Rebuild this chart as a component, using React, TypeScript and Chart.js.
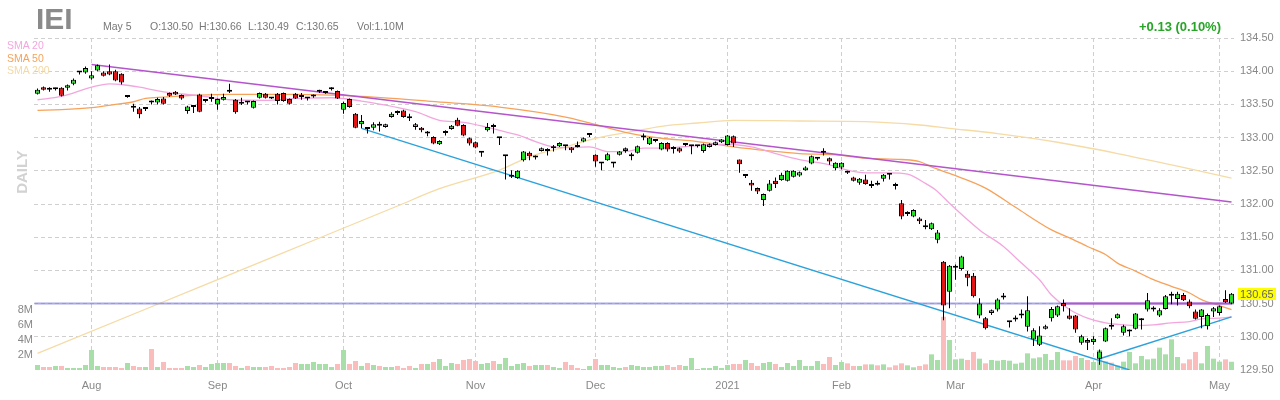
import React, { useEffect, useRef } from "react";
import { Chart, registerables } from "chart.js";

Chart.register(...registerables);

const FONT = '"Liberation Sans", Arial, Helvetica, sans-serif';

// ---- Daily candles, Jul 21 2020 .. May 5 2021 (index = trading day) ----
const opens = [
  133.66, 133.76, 133.75, 133.73, 133.75, 133.75, 133.81, 133.98, 133.98, 133.89,
  134.01, 133.98, 134.0, 134.0, 133.96, 133.61, 133.45, 133.44, 133.43, 133.53,
  133.53, 133.59, 133.67, 133.69, 133.64, 133.4, 133.46, 133.65, 133.55, 133.58,
  133.5, 133.57, 133.69, 133.57, 133.51, 133.53, 133.45, 133.6, 133.66, 133.59,
  133.66, 133.67, 133.58, 133.66, 133.61, 133.59, 133.62, 133.69, 133.67, 133.73,
  133.7, 133.42, 133.58, 133.36, 133.2, 133.13, 133.15, 133.18, 133.16, 133.31,
  133.37, 133.41, 133.29, 133.16, 133.15, 133.06, 133.01, 132.9, 133.07, 133.13,
  133.27, 133.19, 132.99, 132.93, 132.77, 133.11, 133.16, 132.99, 132.72, 132.41,
  132.39, 132.66, 132.77, 132.7, 132.8, 132.83, 132.84, 132.87, 132.87, 132.85,
  132.86, 132.94, 133.04, 132.74, 132.61, 132.66, 132.61, 132.74, 132.84, 132.72,
  132.77, 133.0, 132.9, 132.95, 132.82, 132.92, 132.83, 132.84, 132.89, 132.87,
  132.87, 132.8, 132.86, 132.89, 132.93, 132.89, 133.02, 132.67, 132.42, 132.32,
  132.24, 132.06, 132.2, 132.35, 132.36, 132.35, 132.41, 132.43, 132.51, 132.61,
  132.68, 132.77, 132.69, 132.54, 132.55, 132.47, 132.4, 132.32, 132.37, 132.27,
  132.29, 132.38, 132.44, 132.27, 132.01, 131.85, 131.81, 131.78, 131.65, 131.62,
  131.46, 131.13, 130.68, 131.04, 131.02, 130.95, 130.92, 130.32, 130.28, 130.36,
  130.41, 130.59, 130.22, 130.26, 130.32, 130.15, 129.96, 129.88, 130.12, 130.28,
  130.32, 130.51, 130.32, 130.32, 129.91, 129.95, 129.92, 129.67, 129.93, 130.15,
  130.28, 130.06, 130.08, 130.12, 130.25, 130.41, 130.41, 130.32, 130.42, 130.62,
  130.57, 130.63, 130.53, 130.38, 130.3, 130.16, 130.38, 130.36, 130.57, 130.5,
];
const highs = [
  133.74, 133.77, 133.76, 133.75, 133.76, 133.8, 133.89, 134.0, 134.07, 134.0,
  134.1, 134.0, 134.1, 134.02, 133.97, 133.62, 133.51, 133.46, 133.45, 133.56,
  133.6, 133.61, 133.68, 133.7, 133.65, 133.48, 133.49, 133.66, 133.58, 133.66,
  133.59, 133.66, 133.81, 133.58, 133.6, 133.55, 133.56, 133.68, 133.67, 133.6,
  133.67, 133.68, 133.59, 133.67, 133.67, 133.61, 133.65, 133.72, 133.68, 133.76,
  133.71, 133.54, 133.59, 133.37, 133.34, 133.16, 133.23, 133.24, 133.21, 133.38,
  133.41, 133.42, 133.36, 133.22, 133.16, 133.1, 133.02, 132.96, 133.11, 133.19,
  133.3, 133.2, 133.0, 132.94, 132.8, 133.22, 133.21, 133.0, 132.73, 132.51,
  132.51, 132.8, 132.79, 132.73, 132.85, 132.84, 132.89, 132.93, 132.89, 132.86,
  132.94, 133.0, 133.07, 132.75, 132.62, 132.77, 132.62, 132.8, 132.85, 132.77,
  132.88, 133.06, 133.01, 132.97, 132.93, 132.93, 132.87, 132.85, 132.91, 132.88,
  132.89, 132.91, 132.91, 132.94, 132.98, 133.04, 133.03, 132.67, 132.45, 132.36,
  132.25, 132.16, 132.36, 132.4, 132.47, 132.51, 132.51, 132.49, 132.57, 132.73,
  132.7, 132.84, 132.7, 132.63, 132.63, 132.5, 132.41, 132.39, 132.44, 132.35,
  132.35, 132.45, 132.45, 132.32, 132.06, 131.89, 131.92, 131.8, 131.76, 131.72,
  131.61, 131.14, 131.08, 131.09, 131.22, 130.99, 130.96, 130.58, 130.3, 130.41,
  130.58, 130.66, 130.23, 130.32, 130.41, 130.61, 130.13, 130.16, 130.18, 130.45,
  130.47, 130.56, 130.43, 130.33, 130.03, 129.98, 130.01, 129.81, 130.14, 130.28,
  130.35, 130.18, 130.11, 130.36, 130.28, 130.66, 130.46, 130.43, 130.63, 130.68,
  130.68, 130.66, 130.56, 130.41, 130.42, 130.35, 130.45, 130.47, 130.7, 130.66,
];
const lows = [
  133.65, 133.71, 133.69, 133.71, 133.62, 133.71, 133.79, 133.95, 133.96, 133.87,
  134.0, 133.92, 133.94, 133.85, 133.8, 133.6, 133.39, 133.29, 133.4, 133.5,
  133.5, 133.5, 133.61, 133.64, 133.57, 133.36, 133.37, 133.38, 133.53, 133.54,
  133.42, 133.56, 133.67, 133.36, 133.49, 133.5, 133.44, 133.59, 133.59, 133.58,
  133.5, 133.54, 133.5, 133.58, 133.57, 133.56, 133.6, 133.67, 133.66, 133.71,
  133.58, 133.36, 133.45, 133.14, 133.14, 133.06, 133.11, 133.09, 133.15, 133.3,
  133.34, 133.3, 133.25, 133.12, 133.08, 133.02, 132.9, 132.89, 133.03, 133.12,
  133.17, 133.02, 132.88, 132.84, 132.71, 133.09, 133.06, 132.89, 132.37, 132.39,
  132.38, 132.64, 132.66, 132.67, 132.79, 132.73, 132.79, 132.86, 132.81, 132.77,
  132.85, 132.93, 133.01, 132.56, 132.51, 132.65, 132.55, 132.73, 132.77, 132.66,
  132.76, 132.96, 132.89, 132.93, 132.81, 132.79, 132.76, 132.77, 132.87, 132.75,
  132.85, 132.77, 132.85, 132.88, 132.92, 132.88, 132.86, 132.47, 132.39, 132.2,
  132.15, 131.97, 132.19, 132.24, 132.35, 132.34, 132.4, 132.41, 132.5, 132.6,
  132.66, 132.73, 132.59, 132.51, 132.52, 132.45, 132.34, 132.29, 132.29, 132.24,
  132.28, 132.34, 132.37, 132.22, 131.77, 131.82, 131.8, 131.7, 131.62, 131.61,
  131.41, 130.25, 130.43, 130.86, 131.0, 130.76, 130.59, 130.28, 130.11, 130.33,
  130.38, 130.56, 130.14, 130.23, 130.28, 130.08, 129.86, 129.86, 130.11, 130.23,
  130.3, 130.38, 130.26, 130.06, 129.88, 129.8, 129.88, 129.58, 129.92, 130.11,
  130.27, 130.02, 130.01, 130.11, 130.11, 130.38, 130.38, 130.3, 130.41, 130.49,
  130.47, 130.54, 130.43, 130.26, 130.13, 130.11, 130.3, 130.32, 130.51, 130.49,
];
const closes = [
  133.72, 133.72, 133.72, 133.73, 133.63, 133.79, 133.87, 133.98, 134.05, 133.94,
  134.09, 133.93, 133.95, 133.86, 133.83, 133.61, 133.45, 133.35, 133.43, 133.53,
  133.58, 133.51, 133.63, 133.65, 133.59, 133.47, 133.46, 133.39, 133.55, 133.58,
  133.58, 133.61, 133.69, 133.38, 133.51, 133.53, 133.55, 133.67, 133.6, 133.59,
  133.55, 133.55, 133.51, 133.59, 133.61, 133.59, 133.62, 133.69, 133.67, 133.73,
  133.59, 133.52, 133.46, 133.15, 133.25, 133.13, 133.2, 133.18, 133.2, 133.36,
  133.37, 133.31, 133.29, 133.2, 133.11, 133.06, 132.91, 132.95, 133.07, 133.18,
  133.18, 133.03, 132.91, 132.85, 132.77, 133.16, 133.16, 132.99, 132.72, 132.41,
  132.5, 132.79, 132.72, 132.7, 132.84, 132.8, 132.84, 132.92, 132.87, 132.81,
  132.86, 132.99, 133.04, 132.64, 132.61, 132.75, 132.61, 132.79, 132.8, 132.72,
  132.87, 133.0, 133.0, 132.95, 132.92, 132.82, 132.83, 132.79, 132.89, 132.87,
  132.87, 132.9, 132.9, 132.93, 132.97, 133.03, 132.91, 132.6, 132.42, 132.28,
  132.19, 132.15, 132.31, 132.3, 132.44, 132.5, 132.5, 132.48, 132.55, 132.72,
  132.68, 132.77, 132.64, 132.62, 132.62, 132.47, 132.35, 132.38, 132.3, 132.27,
  132.29, 132.44, 132.44, 132.27, 131.81, 131.85, 131.91, 131.74, 131.65, 131.71,
  131.57, 130.47, 131.07, 131.04, 131.21, 130.89, 130.61, 130.5, 130.13, 130.4,
  130.56, 130.59, 130.22, 130.28, 130.34, 130.4, 130.1, 130.02, 130.16, 130.42,
  130.46, 130.46, 130.27, 130.11, 130.01, 129.91, 129.97, 129.78, 130.13, 130.15,
  130.34, 130.16, 130.08, 130.35, 130.25, 130.55, 130.41, 130.4, 130.61, 130.62,
  130.65, 130.55, 130.46, 130.27, 130.41, 130.33, 130.43, 130.46, 130.52, 130.65,
];
// volume in millions of shares
const volumesM = [
  0.67, 0.4, 0.4, 0.53, 0.53, 0.27, 0.27, 0.27, 0.67, 2.67,
  0.53, 0.4, 0.4, 0.4, 0.27, 0.93, 0.53, 0.4, 0.4, 2.8,
  0.4, 1.07, 0.27, 0.27, 0.27, 0.53, 0.4, 0.67, 0.4, 0.8,
  0.93, 0.93, 0.93, 0.53, 0.27, 0.53, 0.4, 0.4, 0.4, 0.53,
  0.27, 0.27, 0.4, 0.93, 0.8, 0.8, 1.07, 0.8, 0.8, 0.4,
  0.8, 2.67, 0.8, 1.2, 0.53, 0.93, 0.67, 0.53, 0.4, 0.4,
  0.53, 0.27, 0.53, 0.27, 0.8, 0.8, 1.07, 1.47, 0.53, 0.93,
  0.8, 1.33, 1.47, 1.2, 0.8, 0.93, 1.2, 0.8, 1.6, 0.53,
  0.8, 0.93, 0.53, 0.67, 0.67, 0.67, 0.4, 0.27, 1.07, 0.67,
  0.27, 0.13, 0.53, 1.47, 0.67, 0.67, 0.4, 0.27, 0.4, 0.67,
  0.53, 0.4, 0.4, 0.53, 0.53, 0.67, 0.4, 0.67, 0.53, 1.6,
  0.13, 0.27, 0.27, 0.53, 0.27, 0.67, 0.8, 0.8, 1.33, 0.93,
  0.53, 0.93, 1.07, 0.8, 0.4, 0.93, 0.53, 1.33, 0.53, 0.53,
  1.2, 0.8, 1.73, 0.67, 1.07, 0.89, 0.53, 0.53, 0.75, 0.75,
  0.62, 0.75, 0.36, 0.62, 0.89, 0.62, 0.36, 0.53, 0.75, 2.09,
  1.33, 7.1, 4.0, 1.42, 1.51, 1.33, 2.4, 1.51, 0.89, 1.33,
  1.24, 1.33, 1.24, 0.84, 0.98, 2.22, 1.55, 1.69, 2.13, 1.33,
  2.4, 1.29, 1.29, 1.87, 1.6, 1.33, 1.07, 2.67, 1.15, 0.98,
  0.6, 1.11, 2.4, 0.89, 1.87, 1.42, 1.51, 2.98, 2.09, 4.09,
  1.73, 0.89, 1.42, 2.4, 0.89, 3.2, 1.51, 1.11, 1.42, 1.1,
];
// 1 = up-day volume bar (green), 0 = down-day (pink)
const volumeUp = [
  1, 0, 0, 1, 0, 1, 1, 1, 1, 1,
  1, 0, 0, 0, 0, 1, 0, 0, 1, 0,
  1, 0, 0, 0, 0, 1, 1, 0, 1, 1,
  1, 1, 0, 0, 1, 0, 1, 1, 0, 0,
  0, 0, 0, 0, 1, 1, 1, 1, 1, 1,
  0, 1, 0, 0, 1, 0, 1, 0, 1, 1,
  0, 0, 0, 1, 0, 1, 0, 1, 1, 1,
  0, 0, 0, 0, 1, 1, 0, 1, 1, 1,
  1, 1, 0, 1, 1, 0, 1, 1, 0, 0,
  0, 1, 1, 0, 1, 1, 1, 1, 0, 1,
  1, 1, 1, 1, 1, 0, 0, 0, 1, 1,
  1, 1, 1, 1, 1, 1, 0, 0, 1, 0,
  0, 1, 1, 0, 1, 1, 1, 1, 1, 1,
  1, 0, 0, 1, 1, 0, 0, 1, 0, 1,
  0, 1, 0, 0, 0, 1, 1, 0, 0, 1,
  1, 0, 1, 1, 1, 0, 0, 1, 0, 1,
  1, 1, 1, 1, 1, 1, 1, 1, 1, 1,
  1, 0, 0, 0, 1, 0, 1, 1, 1, 0,
  1, 1, 1, 1, 1, 1, 1, 1, 1, 1,
  1, 0, 0, 0, 1, 1, 1, 1, 0, 1,
];

// ---- moving averages, read at sample trading-day indices ----
const sma20Idx = [0, 4, 9, 12, 14, 17, 21, 27, 32, 38, 43, 49, 54, 63, 67, 71, 77, 80, 83, 86, 88, 92, 95, 98, 101, 104, 110, 115, 119, 123, 127, 132, 135, 138, 142, 145, 148, 150, 152, 157, 161, 164, 167, 169, 172, 175, 178, 181, 183, 186, 189, 192, 194, 197, 199];
const sma20Val = [133.57, 133.62, 133.76, 133.81, 133.8, 133.76, 133.69, 133.63, 133.57, 133.56, 133.59, 133.6, 133.55, 133.39, 133.26, 133.23, 133.11, 133.04, 132.94, 132.86, 132.85, 132.86, 132.79, 132.79, 132.84, 132.84, 132.88, 132.9, 132.86, 132.76, 132.67, 132.59, 132.51, 132.47, 132.47, 132.45, 132.31, 132.19, 132.01, 131.61, 131.36, 131.11, 130.86, 130.63, 130.41, 130.28, 130.21, 130.18, 130.17, 130.18, 130.21, 130.23, 130.27, 130.28, 130.3];
const sma50Idx = [0, 4, 9, 13, 16, 18, 21, 27, 32, 38, 43, 49, 54, 65, 77, 88, 99, 104, 110, 116, 122, 127, 133, 138, 144, 147, 149, 152, 158, 163, 169, 172, 175, 178, 180, 183, 186, 189, 192, 194, 197, 199];
const sma50Val = [133.41, 133.42, 133.45, 133.5, 133.54, 133.59, 133.61, 133.64, 133.65, 133.65, 133.65, 133.64, 133.62, 133.55, 133.46, 133.31, 133.06, 132.99, 132.94, 132.86, 132.8, 132.76, 132.74, 132.69, 132.67, 132.64, 132.56, 132.46, 132.24, 131.95, 131.61, 131.49, 131.36, 131.24, 131.11, 130.99, 130.86, 130.76, 130.66, 130.56, 130.47, 130.41];
const sma200Idx = [0, 20, 40, 60, 67, 77, 82, 88, 93, 99, 104, 110, 116, 127, 138, 147, 152, 160, 170, 180, 190, 199];
const sma200Val = [129.75, 130.49, 131.23, 131.97, 132.23, 132.51, 132.71, 132.86, 132.99, 133.09, 133.17, 133.22, 133.26, 133.25, 133.24, 133.19, 133.14, 133.06, 132.93, 132.76, 132.57, 132.39];

// ---- drawn trend lines (index, price) ----
const resistIdx = [9, 199];
const resistVal = [134.1, 132.03];
const supportDownIdx = [54, 182];
const supportDownVal = [133.14, 129.5];
const supportUpIdx = [177, 199];
const supportUpVal = [129.67, 130.3];
const levelIdx = [-0.5, 199.4];
const levelVal = [130.5, 130.5];
const levelMagIdx = [171, 199];
const levelMagVal = [130.5, 130.5];

// ---- axes ----
const monthTickIdx = [9, 30, 51, 73, 93, 115, 134, 153, 176, 197];
const monthTickLabels = ["Aug", "Sep", "Oct", "Nov", "Dec", "2021", "Feb", "Mar", "Apr", "May"];
const priceTicks = [129.5, 130, 130.5, 131, 131.5, 132, 132.5, 133, 133.5, 134, 134.5];
const volumeTicks = [2, 4, 6, 8];

const GREEN = "#22e022";
const RED = "#e41414";
const VOL_GREEN = "#a8dea8";
const VOL_PINK = "#fbbcbc";
const GRID = "#cfcfcf";

function pts(idx: number[], val: number[]) {
  return idx.map((x, k) => ({ x, y: val[k] }));
}

const lastPricePlugin = {
  id: "lastPriceLabel",
  afterDatasetsDraw(chart: any) {
    const ys = chart.scales.y;
    const last = closes[closes.length - 1];
    const y = ys.getPixelForValue(last);
    const ctx = chart.ctx;
    ctx.save();
    ctx.fillStyle = "#ffff00";
    ctx.fillRect(ys.left + 4, Math.round(y) - 6, 38, 12);
    ctx.fillStyle = "#666666";
    ctx.font = `11px ${FONT}`;
    ctx.textBaseline = "middle";
    ctx.textAlign = "left";
    ctx.fillText(last.toFixed(2), ys.left + 6, Math.round(y) + 0.5);
    ctx.restore();
  },
};

function lineDs(label: string, data: any[], color: string, width: number, order: number, smooth: boolean) {
  return {
    type: "line" as const,
    label,
    data,
    borderColor: color,
    backgroundColor: color,
    borderWidth: width,
    pointRadius: 0,
    fill: false,
    order,
    xAxisID: "x",
    yAxisID: "y",
    cubicInterpolationMode: smooth ? ("monotone" as const) : ("default" as const),
  };
}

export default function App() {
  const canvasRef = useRef<HTMLCanvasElement | null>(null);

  useEffect(() => {
    const canvas = canvasRef.current;
    if (!canvas) return;

    const bodyColors = opens.map((o, i) => (closes[i] > o ? GREEN : closes[i] < o ? RED : "#000000"));

    const chart = new Chart(canvas, {
      type: "bar",
      data: {
        datasets: [
          {
            type: "bar",
            label: "Volume",
            data: volumesM.map((v, i) => ({ x: i, y: v })),
            backgroundColor: volumeUp.map((u) => (u ? VOL_GREEN : VOL_PINK)),
            borderWidth: 0,
            barThickness: 5,
            grouped: false,
            inflateAmount: 0,
            yAxisID: "vol",
            xAxisID: "x",
            order: 20,
          } as any,
          lineDs("SMA 200", pts(sma200Idx, sma200Val), "#f5dba6", 1.3, 15, true),
          lineDs("SMA 50", pts(sma50Idx, sma50Val), "#f7a25a", 1.3, 14, true),
          lineDs("SMA 20", pts(sma20Idx, sma20Val), "#f3a6de", 1.3, 13, true),
          lineDs("Level", pts(levelIdx, levelVal), "rgba(125,125,215,0.65)", 2, 12, false),
          lineDs("Level 2", pts(levelMagIdx, levelMagVal), "#b455cc", 2, 11, false),
          lineDs("Resistance", pts(resistIdx, resistVal), "#b455cc", 1.6, 11, false),
          lineDs("Support down", pts(supportDownIdx, supportDownVal), "#2ba2dc", 1.4, 11, false),
          lineDs("Support up", pts(supportUpIdx, supportUpVal), "#2ba2dc", 1.4, 11, false),
          {
            type: "bar",
            label: "Wicks",
            data: lows.map((l, i) => ({ x: i, y: [l, highs[i]] })),
            backgroundColor: "#000000",
            borderWidth: 0,
            barThickness: 1,
            grouped: false,
            inflateAmount: 0,
            minBarLength: 1,
            xAxisID: "x",
            yAxisID: "y",
            order: 2,
          } as any,
          {
            type: "bar",
            label: "Bodies",
            data: opens.map((o, i) => ({ x: i, y: [o, closes[i]] })),
            backgroundColor: bodyColors,
            borderColor: "#000000",
            borderWidth: 1,
            borderSkipped: false,
            barThickness: 5,
            grouped: false,
            inflateAmount: 0,
            minBarLength: 2,
            xAxisID: "x",
            yAxisID: "y",
            order: 1,
          } as any,
        ],
      },
      options: {
        animation: false,
        responsive: false,
        maintainAspectRatio: false,
        devicePixelRatio: 1,
        layout: { padding: { top: 38, left: 0, right: 0, bottom: 0 } },
        plugins: {
          legend: { display: false },
          tooltip: { enabled: false },
        },
        scales: {
          x: {
            type: "linear",
            min: -0.5 - 1 / 12,
            max: 199.5 - 1 / 12,
            offset: false,
            afterBuildTicks: (s: any) => {
              s.ticks = monthTickIdx.map((v) => ({ value: v }));
            },
            afterFit: (s: any) => {
              s.height = 30;
            },
            ticks: {
              autoSkip: false,
              maxRotation: 0,
              padding: 9,
              color: "#888888",
              font: { family: FONT, size: 11 },
              callback: (_v: any, i: number) => monthTickLabels[i],
            },
            grid: { color: GRID, drawTicks: false, offset: false, lineWidth: 1 },
            border: { display: false, dash: [4, 3] },
          } as any,
          y: {
            type: "linear",
            position: "right",
            min: 129.5,
            max: 134.5,
            afterBuildTicks: (s: any) => {
              s.ticks = priceTicks.map((v) => ({ value: v }));
            },
            afterFit: (s: any) => {
              s.width = 46;
            },
            ticks: {
              padding: 6,
              color: "#888888",
              font: { family: FONT, size: 11 },
              callback: (v: any) => Number(v).toFixed(2),
            },
            grid: {
              drawTicks: false,
              color: (c: any) => (c.tick && c.tick.value === 129.5 ? "rgba(0,0,0,0)" : GRID),
            },
            border: { display: false, dash: [4, 3] },
          } as any,
          vol: {
            type: "linear",
            position: "left",
            min: 0,
            max: 332 / 7.5,
            afterBuildTicks: (s: any) => {
              s.ticks = volumeTicks.map((v) => ({ value: v }));
            },
            afterFit: (s: any) => {
              s.width = 34;
            },
            ticks: {
              padding: 1,
              color: "#888888",
              font: { family: FONT, size: 11 },
              callback: (v: any) => `${v}M`,
            },
            grid: { display: false, drawTicks: false },
            border: { display: false },
          } as any,
        },
      },
      plugins: [lastPricePlugin],
    });

    return () => {
      chart.destroy();
    };
  }, []);

  const hdr: React.CSSProperties = {
    position: "absolute",
    fontFamily: FONT,
    fontSize: 10.5,
    lineHeight: "10.5px",
    color: "#777777",
    whiteSpace: "pre",
  };

  return (
    <div
      style={{
        position: "fixed",
        left: 0,
        top: 0,
        width: 1280,
        height: 400,
        background: "#ffffff",
        overflow: "hidden",
        fontFamily: FONT,
      }}
    >
      <canvas ref={canvasRef} width={1280} height={400} style={{ position: "absolute", left: 0, top: 0 }} />
      <div
        style={{
          position: "absolute",
          left: 36,
          top: 3.6,
          fontFamily: FONT,
          fontSize: 30,
          lineHeight: "30px",
          fontWeight: "bold",
          color: "#8a8a8a",
        }}
      >
        IEI
      </div>
      <div style={{ ...hdr, left: 103, top: 21.1 }}>May 5</div>
      <div style={{ ...hdr, left: 150, top: 21.1 }}>O:130.50</div>
      <div style={{ ...hdr, left: 199, top: 21.1 }}>H:130.66</div>
      <div style={{ ...hdr, left: 248, top: 21.1 }}>L:130.49</div>
      <div style={{ ...hdr, left: 296, top: 21.1 }}>C:130.65</div>
      <div style={{ ...hdr, left: 357, top: 21.1 }}>Vol:1.10M</div>
      <div
        style={{
          position: "absolute",
          right: 59,
          top: 20,
          fontFamily: FONT,
          fontSize: 13,
          lineHeight: "13px",
          fontWeight: "bold",
          color: "#26a526",
          whiteSpace: "pre",
        }}
      >
        +0.13 (0.10%)
      </div>
      <div style={{ ...hdr, left: 7, top: 40.4, color: "#f3a6de" }}>SMA 20</div>
      <div style={{ ...hdr, left: 7, top: 52.9, color: "#f7a25a" }}>SMA 50</div>
      <div style={{ ...hdr, left: 7, top: 65.4, color: "#f2d9a6" }}>SMA 200</div>
      <div
        style={{
          position: "absolute",
          left: 21,
          top: 172,
          transform: "translate(-50%, -50%) rotate(-90deg)",
          fontFamily: FONT,
          fontSize: 15,
          lineHeight: "15px",
          fontWeight: "bold",
          color: "#d2d2d2",
          whiteSpace: "pre",
        }}
      >
        DAILY
      </div>
    </div>
  );
}
